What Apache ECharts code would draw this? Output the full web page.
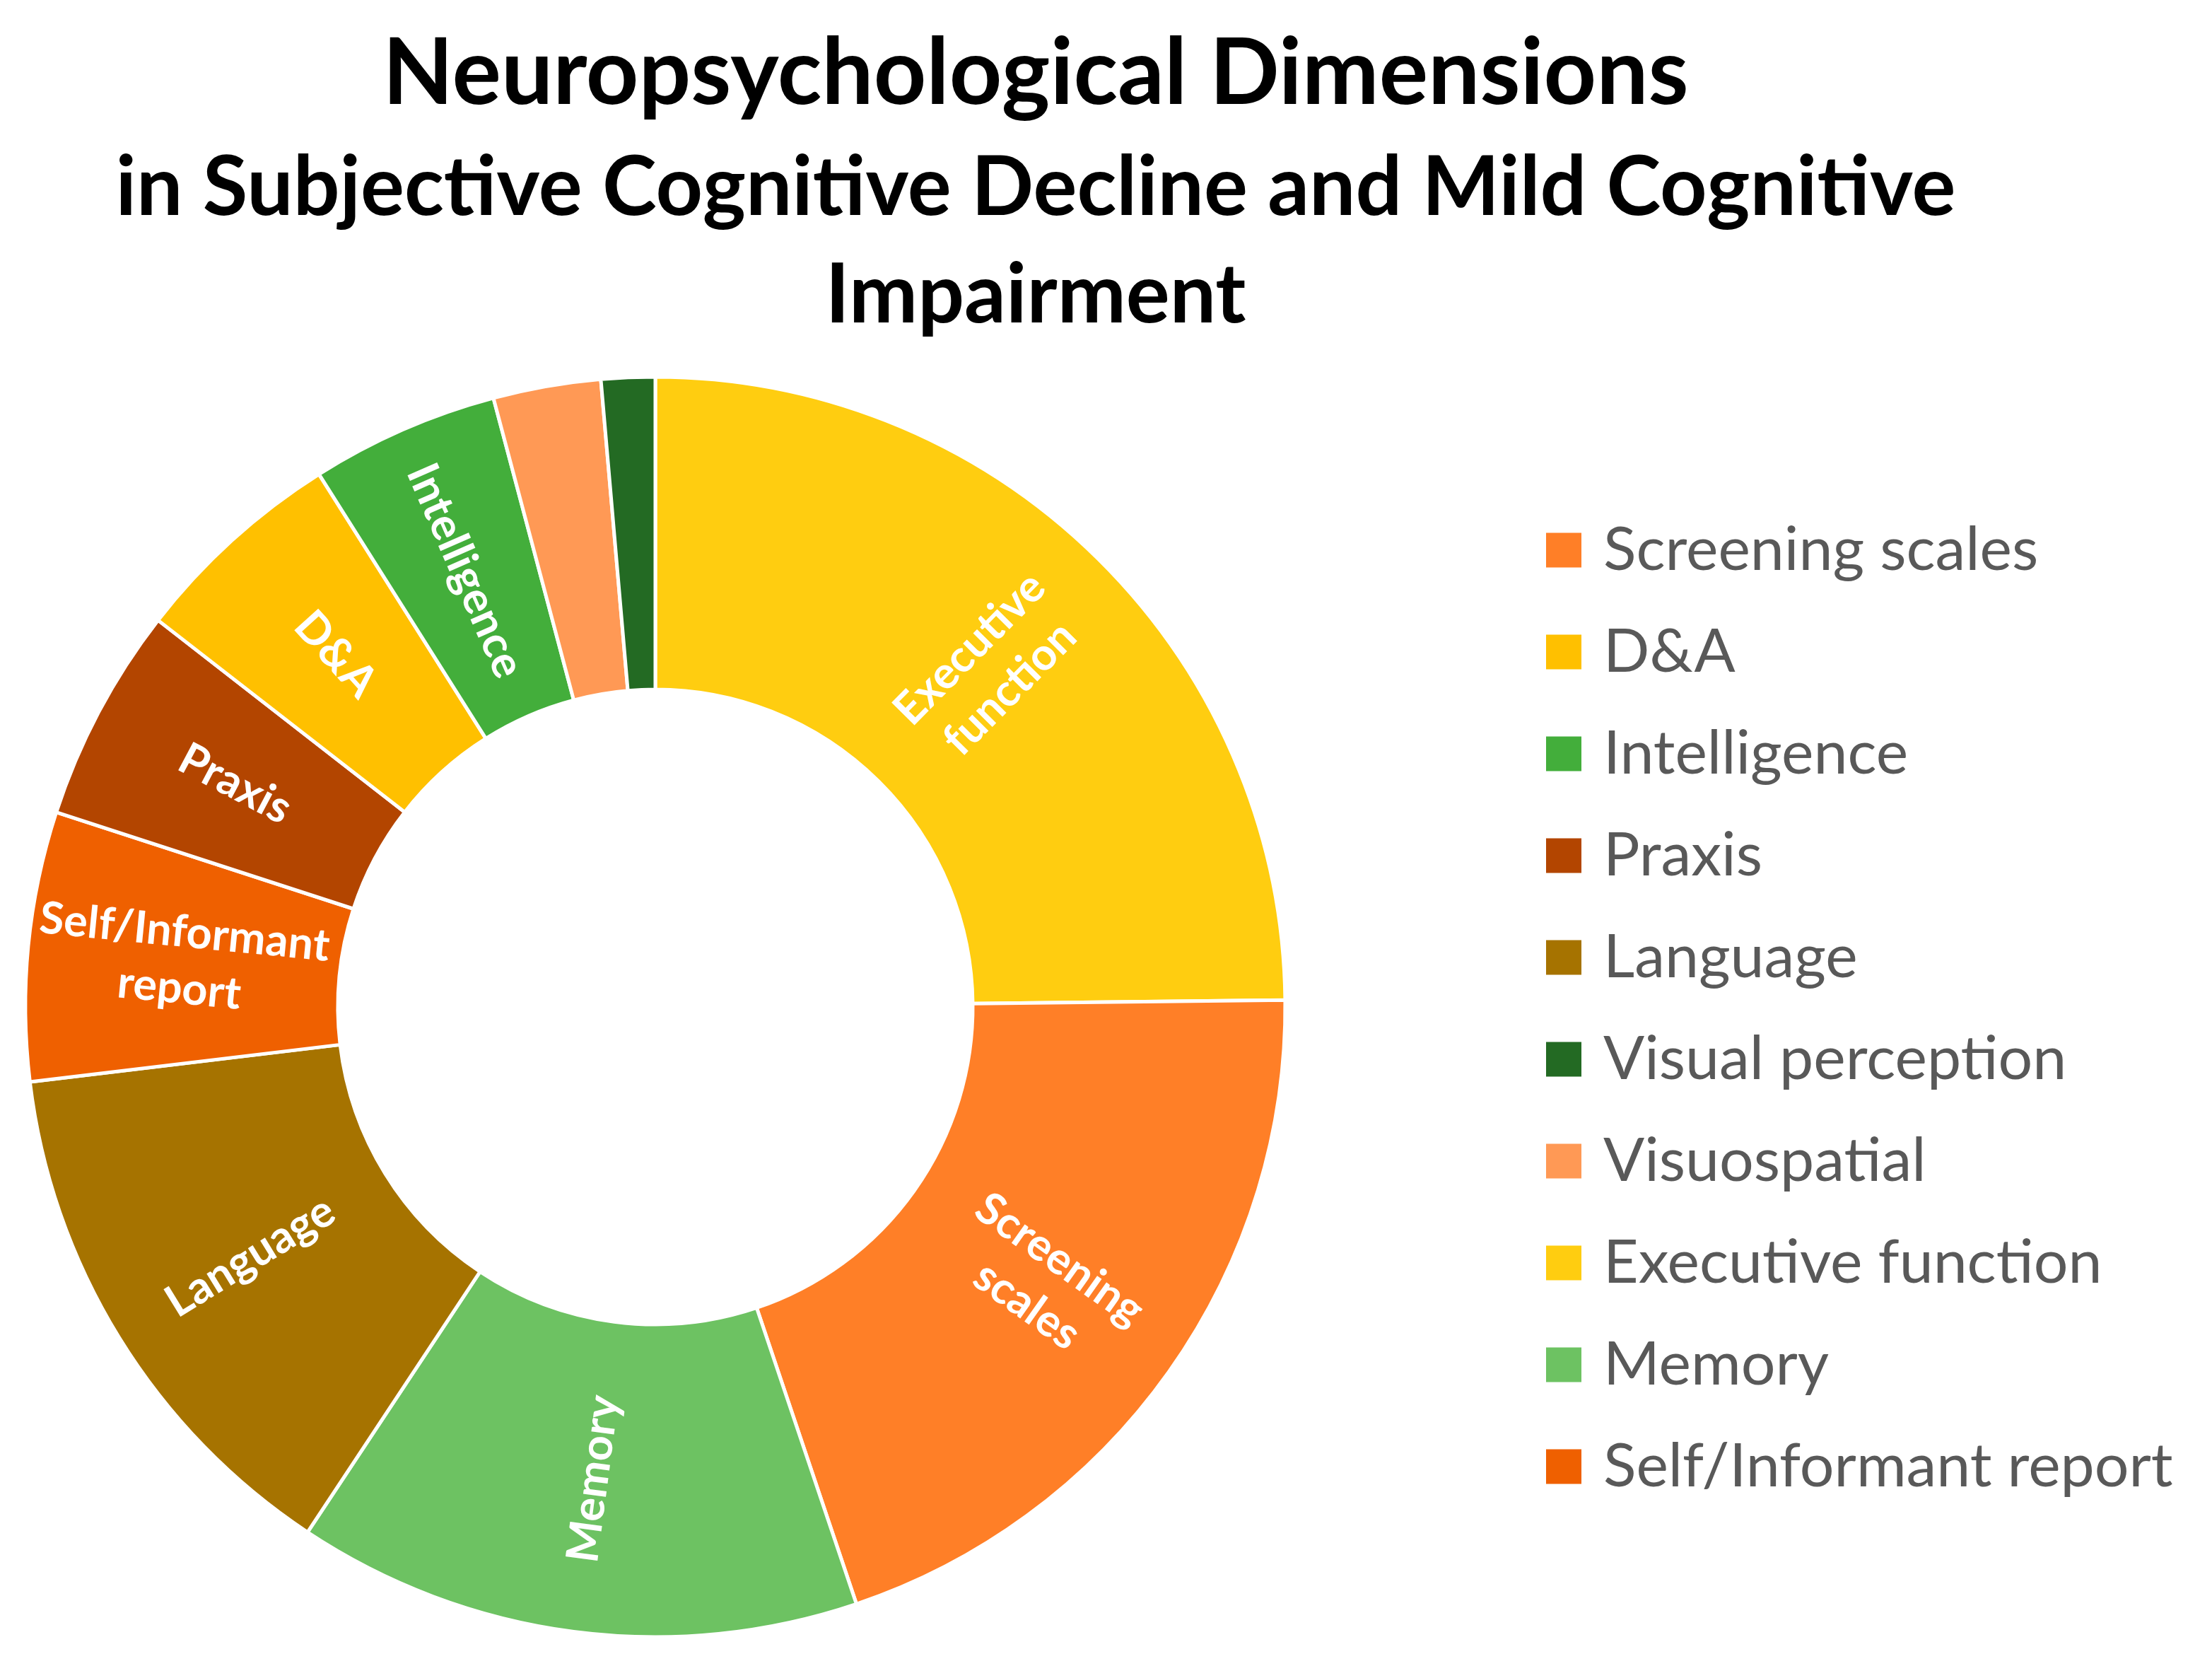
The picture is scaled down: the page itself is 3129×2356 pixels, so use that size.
<!DOCTYPE html>
<html>
<head>
<meta charset="utf-8">
<script src="https://cdn.jsdelivr.net/npm/echarts@6/dist/echarts.min.js"></script>
<style>
  html, body { margin: 0; padding: 0; background: #fff; }
  #chart { width: 3129px; height: 2356px; }
</style>
</head>
<body>
<div id="chart"></div>
<script>
// slices, clockwise from 12 o'clock
const dimensions = ['Executive function', 'Screening scales', 'Memory', 'Language',
    'Self/Informant report', 'Praxis', 'D&A', 'Intelligence', 'Visuospatial', 'Visual perception'];
const counts = [36, 29, 21, 20, 10, 8, 8, 7, 4, 2];
const sliceColors = ['#FFCD10', '#FF7F27', '#6DC262', '#A67300',
    '#EF6000', '#B34500', '#FFC000', '#43AE3B', '#FF9955', '#236A23'];
const sliceLabels = {
    'Executive function': 'Executive\nfunction',
    'Screening scales': 'Screening\nscales',
    'Self/Informant report': 'Self/Informant\nreport',
};
// legend order as in the figure
const legendOrder = ['Screening scales', 'D&A', 'Intelligence', 'Praxis', 'Language',
    'Visual perception', 'Visuospatial', 'Executive function', 'Memory', 'Self/Informant report'];

const FONT = 'Lato';

const chart = echarts.init(document.getElementById('chart'));

const option = {
    animation: false,
    backgroundColor: '#ffffff',
    title: {
        text: '{a|Neuropsychological Dimensions}\n{b|in Subjective Cognitive Decline and Mild Cognitive}\n{b|Impairment}',
        left: 1460,
        top: 14,
        textAlign: 'center',
        textStyle: {
            rich: {
                a: { fontFamily: FONT, fontWeight: 'bold', fontSize: 130, lineHeight: 172, color: '#000' },
                b: { fontFamily: FONT, fontWeight: 'bold', fontSize: 116, lineHeight: 152, color: '#000' },
            },
        },
    },
    legend: {
        orient: 'vertical',
        left: 2180,
        top: 730,
        height: 1600,
        data: legendOrder,
        icon: 'rect',
        itemWidth: 52,
        itemHeight: 51,
        itemGap: 58,
        textStyle: {
            fontFamily: FONT,
            fontSize: 86,
            color: '#595959',
            padding: [0, 0, 0, 25],
        },
    },
    series: [{
        type: 'pie',
        center: [927, 1424],
        radius: [449, 891],
        startAngle: 90,
        clockwise: true,
        minShowLabelAngle: 12,
        itemStyle: { borderColor: '#ffffff', borderWidth: 5 },
        label: {
            show: true,
            position: 'inside',
            rotate: 'radial',
            color: '#ffffff',
            fontFamily: FONT,
            fontWeight: 'bold',
            fontSize: 63,
            lineHeight: 80,
            formatter: (p) => sliceLabels[p.name] || p.name,
        },
        labelLine: { show: false },
        emphasis: { disabled: true },
        data: dimensions.map((name, i) => ({
            name,
            value: counts[i],
            itemStyle: { color: sliceColors[i] },
        })),
    }],
};

chart.setOption(option);
</script>
</body>
</html>
